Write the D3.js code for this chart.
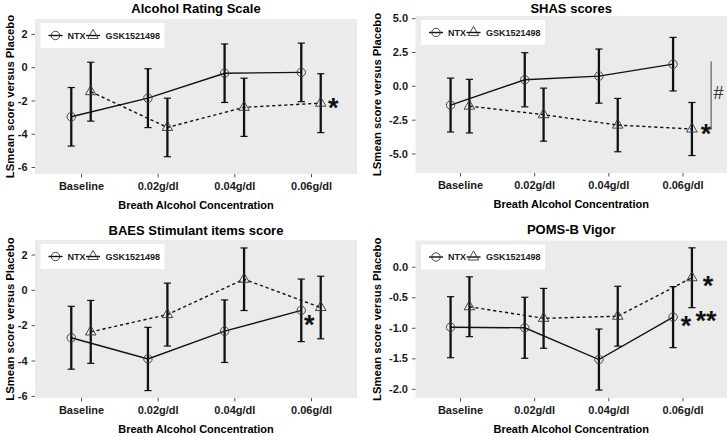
<!DOCTYPE html>
<html>
<head>
<meta charset="utf-8">
<script src="https://cdn.jsdelivr.net/npm/d3@7"></script>
<style>
  html, body { margin: 0; padding: 0; background: #fff; }
  svg { display: block; font-family: "Liberation Sans", Arial, Helvetica, sans-serif; }
</style>
</head>
<body>
<svg id="chart" width="727" height="437"></svg>
<script>
// ---------------- DATA ----------------
const categories = ["Baseline", "0.02g/dl", "0.04g/dl", "0.06g/dl"];
const seriesNames = ["NTX", "GSK1521498"];
const panelTitles = ["Alcohol Rating Scale", "SHAS scores", "BAES Stimulant items score", "POMS-B Vigor"];
const xAxisTitle = "Breath Alcohol Concentration";
const yAxisTitle = "LSmean score versus Placebo";

// Alcohol Rating Scale
const alcoholNTX = [-2.98, -1.86, -0.36, -0.31];
const alcoholNTXErr = [1.76, 1.77, 1.76, 1.76];
const alcoholGSK = [-1.47, -3.62, -2.41, -2.16];
const alcoholGSKErr = [1.77, 1.76, 1.75, 1.77];
const alcoholTicks = [-6, -4, -2, 0, 2];

// SHAS scores
const shasNTX = [-1.42, 0.45, 0.72, 1.60];
const shasNTXErr = [1.99, 2.00, 2.00, 1.98];
const shasGSK = [-1.50, -2.13, -2.90, -3.19];
const shasGSKErr = [1.98, 1.96, 1.97, 1.96];
const shasTicks = [-5.0, -2.5, 0.0, 2.5, 5.0];

// BAES Stimulant items score
const baesNTX = [-2.71, -3.91, -2.34, -1.16];
const baesNTXErr = [1.78, 1.79, 1.77, 1.77];
const baesGSK = [-2.38, -1.40, 0.60, -1.00];
const baesGSKErr = [1.78, 1.78, 1.77, 1.77];
const baesTicks = [-6, -4, -2, 0, 2];

// POMS-B Vigor
const pomsNTX = [-0.99, -1.00, -1.52, -0.825];
const pomsNTXErr = [0.50, 0.50, 0.50, 0.50];
const pomsGSK = [-0.655, -0.845, -0.81, -0.18];
const pomsGSKErr = [0.49, 0.49, 0.49, 0.49];
const pomsTicks = [-2.0, -1.5, -1.0, -0.5, 0.0];

// y-axis limits
const yDomains = [[-6.42, 2.9], [-6.44, 5.16], [-6.12, 2.82], [-2.15, 0.43]];

// ---------------- LAYOUT ----------------
const layouts = [
  { x0: 35,    x1: 357, y0: 19,    y1: 174, yTitleX: 10,  titleY: 8,   fmt: d => String(d).replace("\u2212", "-") },
  { x0: 415.5, x1: 727, y0: 16,    y1: 173, yTitleX: 377, titleY: 8,   fmt: d => d.toFixed(1) },
  { x0: 35,    x1: 357, y0: 240,   y1: 398, yTitleX: 10,  titleY: 230, fmt: d => String(d) },
  { x0: 415.5, x1: 727, y0: 240.5, y1: 398, yTitleX: 377, titleY: 229, fmt: d => d.toFixed(1) }
];

const panels = [
  { title: panelTitles[0], ticks: alcoholTicks, domain: yDomains[0],
    series: [{ mean: alcoholNTX, err: alcoholNTXErr }, { mean: alcoholGSK, err: alcoholGSKErr }] },
  { title: panelTitles[1], ticks: shasTicks, domain: yDomains[1],
    series: [{ mean: shasNTX, err: shasNTXErr }, { mean: shasGSK, err: shasGSKErr }] },
  { title: panelTitles[2], ticks: baesTicks, domain: yDomains[2],
    series: [{ mean: baesNTX, err: baesNTXErr }, { mean: baesGSK, err: baesGSKErr }] },
  { title: panelTitles[3], ticks: pomsTicks, domain: yDomains[3],
    series: [{ mean: pomsNTX, err: pomsNTXErr }, { mean: pomsGSK, err: pomsGSKErr }] }
];

// significance marks, anchored on a point (panel, series, category) with pixel offsets
const marks = [
  { panel: 0, s: 1, c: 3, dx: 12.5, dy: -1, text: "*" },
  { panel: 1, s: 1, c: 3, dx: 14,  dy: -1, text: "*" },
  { panel: 2, s: 0, c: 3, dx: 8,   dy: 9,  text: "*" },
  { panel: 3, s: 1, c: 3, dx: 16,  dy: 2.5, text: "*" },
  { panel: 3, s: 0, c: 3, dx: 13,  dy: 2.5, text: "*" },
  { panel: 3, s: 0, c: 3, dx: 33,  dy: -2.5, text: "**" }
];

const svg = d3.select("#chart");
const textCol = "#1a1a1a";
const sym = {
  circle: d3.symbol().type(d3.symbolCircle).size(Math.PI * 4.2 * 4.2),
  triangle: d3.symbol().type(d3.symbolTriangle).size(48)
};

panels.forEach((p, i) => {
  const L = layouts[i];
  const g = svg.append("g");
  const x = d3.scalePoint().domain(categories).range([L.x0, L.x1]).padding(0.6);
  const y = d3.scaleLinear().domain(p.domain).range([L.y1, L.y0]);
  const dodge = x.step() * 0.127;
  const xs = (si, c) => x(categories[c]) + (si === 0 ? -dodge : dodge);
  p.x = x; p.y = y; p.xs = xs;

  // panel background
  g.append("rect").attr("x", L.x0).attr("y", L.y0)
    .attr("width", L.x1 - L.x0).attr("height", L.y1 - L.y0).attr("fill", "#ebebeb");

  // axes
  const ax = g.append("g").attr("transform", `translate(0,${L.y1})`)
    .call(d3.axisBottom(x).tickSize(3.5).tickPadding(5));
  ax.select(".domain").remove();
  ax.selectAll("line").attr("stroke", "#555");
  ax.selectAll("text").attr("font-size", 11).attr("font-weight", "bold").attr("fill", textCol)
    .attr("font-family", "Liberation Sans, Arial, sans-serif");

  const ay = g.append("g").attr("transform", `translate(${L.x0},0)`)
    .call(d3.axisLeft(y).tickValues(p.ticks).tickFormat(L.fmt).tickSize(3.5).tickPadding(4));
  ay.select(".domain").remove();
  ay.selectAll("line").attr("stroke", "#555");
  ay.selectAll("text").attr("font-size", 11).attr("font-weight", "bold").attr("fill", textCol)
    .attr("font-family", "Liberation Sans, Arial, sans-serif");

  // titles
  g.append("text").attr("x", (L.x0 + L.x1) / 2).attr("y", L.titleY).attr("dy", "0.35em")
    .attr("text-anchor", "middle").attr("font-size", 13).attr("font-weight", "bold")
    .attr("fill", "#000").text(p.title);
  g.append("text").attr("x", (L.x0 + L.x1) / 2).attr("y", L.y1 + 31).attr("dy", "0.35em")
    .attr("text-anchor", "middle").attr("font-size", 11).attr("font-weight", "bold")
    .attr("fill", "#000").text(xAxisTitle);
  g.append("text").attr("transform", `translate(${L.yTitleX},${(L.y0 + L.y1) / 2}) rotate(-90)`)
    .attr("dy", "0.35em").attr("text-anchor", "middle").attr("font-size", 11.3)
    .attr("font-weight", "bold").attr("fill", "#000").text(yAxisTitle);

  // error bars
  p.series.forEach((s, si) => {
    const eb = g.append("g").attr("stroke", "#111").attr("fill", "none");
    s.mean.forEach((m, c) => {
      const cx = xs(si, c), lo = y(m - s.err[c]), hi = y(m + s.err[c]);
      eb.append("line").attr("x1", cx).attr("x2", cx).attr("y1", lo).attr("y2", hi).attr("stroke-width", 2.3);
      eb.append("line").attr("x1", cx - 3.6).attr("x2", cx + 3.6).attr("y1", lo).attr("y2", lo).attr("stroke-width", 1.2);
      eb.append("line").attr("x1", cx - 3.6).attr("x2", cx + 3.6).attr("y1", hi).attr("y2", hi).attr("stroke-width", 1.2);
    });
  });

  // lines
  p.series.forEach((s, si) => {
    const line = d3.line().x((d, c) => xs(si, c)).y(d => y(d));
    g.append("path").datum(s.mean).attr("d", line).attr("fill", "none")
      .attr("stroke", "#111").attr("stroke-width", 1.4)
      .attr("stroke-dasharray", si === 0 ? null : "3.2,2.8");
  });

  // points
  p.series.forEach((s, si) => {
    g.selectAll(null).data(s.mean).enter().append("path")
      .attr("transform", (d, c) => `translate(${xs(si, c)},${y(d)})`)
      .attr("d", si === 0 ? sym.circle() : sym.triangle())
      .attr("fill", "none").attr("stroke", "#333").attr("stroke-width", 0.9);
  });

  // legend
  const lg = g.append("g").attr("transform", `translate(${L.x0 + 5.5},${L.y0 + 4})`);
  lg.append("rect").attr("width", 124).attr("height", 25).attr("fill", "#fff");
  const items = [{ name: seriesNames[0], kx: 15, tx: 27 }, { name: seriesNames[1], kx: 52.5, tx: 65 }];
  items.forEach((it, si) => {
    lg.append("line").attr("x1", it.kx - 7).attr("x2", it.kx + 7).attr("y1", 12.5).attr("y2", 12.5)
      .attr("stroke", "#111").attr("stroke-width", 1.4);
    lg.append("path").attr("transform", `translate(${it.kx},${12.5})`)
      .attr("d", si === 0 ? sym.circle() : sym.triangle())
      .attr("fill", "none").attr("stroke", "#333").attr("stroke-width", 0.9);
    lg.append("text").attr("x", it.tx).attr("y", 12.5).attr("dy", "0.35em")
      .attr("font-size", 9).attr("font-weight", "bold").attr("fill", textCol).text(it.name);
  });
});

// significance marks
marks.forEach(m => {
  const p = panels[m.panel];
  const cx = p.xs(m.s, m.c) + m.dx;
  const cy = p.y(p.series[m.s].mean[m.c]) + m.dy;
  svg.append("text").attr("x", cx).attr("y", cy + 15).attr("text-anchor", "middle")
    .attr("font-size", 27).attr("font-weight", "bold").attr("fill", "#111").text(m.text);
});

// "#" bracket in SHAS panel
{
  const p = panels[1];
  const bx = p.x(categories[3]) + p.x.step() * 0.386;
  svg.append("line").attr("x1", bx).attr("x2", bx).attr("y1", p.y(1.79)).attr("y2", p.y(-3.24))
    .attr("stroke", "#555").attr("stroke-width", 1.1);
  svg.append("text").attr("x", bx + 7.5).attr("y", p.y(-0.5)).attr("dy", "0.35em")
    .attr("text-anchor", "middle").attr("font-size", 18).attr("fill", "#333").text("#");
}
</script>
</body>
</html>
